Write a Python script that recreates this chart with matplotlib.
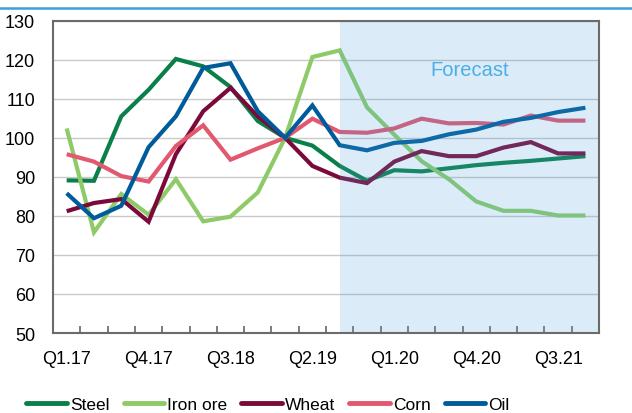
import matplotlib
matplotlib.use("Agg")
import matplotlib.pyplot as plt
from matplotlib.lines import Line2D

plt.rcParams['font.family'] = ['Liberation Sans', 'DejaVu Sans']

quarters = [f"Q{q}.{y}" for y in range(17, 22) for q in range(1, 5)]
tick_labels = ["Q1.17", "Q4.17", "Q3.18", "Q2.19", "Q1.20", "Q4.20", "Q3.21"]

steel = [89.1, 89.0, 105.5, 112.3, 120.2, 118.3, 113.0, 104.3, 100.0, 98.0,
         92.8, 89.0, 91.7, 91.4, 92.2, 93.0, 93.6, 94.1, 94.7, 95.3]
iron_ore = [102.4, 75.8, 85.6, 80.3, 89.4, 78.6, 79.8, 86.0, 100.0, 120.7,
            122.4, 107.8, 100.8, 94.0, 89.4, 83.7, 81.3, 81.3, 80.1, 80.1]
wheat = [81.2, 83.3, 84.3, 78.5, 95.8, 106.8, 112.8, 105.5, 100.0, 92.8,
         89.8, 88.4, 93.9, 96.6, 95.3, 95.3, 97.5, 98.9, 96.0, 96.0]
corn = [95.8, 93.9, 90.2, 88.8, 97.9, 103.2, 94.4, 97.3, 100.0, 104.9,
        101.5, 101.3, 102.4, 104.9, 103.7, 103.8, 103.4, 105.7, 104.4, 104.4]
oil = [85.8, 79.4, 82.6, 97.6, 105.5, 117.9, 119.1, 106.8, 100.0, 108.3,
       98.1, 96.8, 98.7, 99.2, 100.9, 102.1, 104.1, 105.1, 106.6, 107.7]

series = [("Steel", steel, "#0A7F49"),
          ("Iron ore", iron_ore, "#8ECB68"),
          ("Wheat", wheat, "#7B0A3A"),
          ("Corn", corn, "#E2586F"),
          ("Oil", oil, "#005B9A")]

forecast_start = "Q3.19"

fig = plt.figure(figsize=(6.32, 4.14), dpi=100)
ax = fig.add_axes([0.0839, 0.1932, 0.864, 0.7544])

x = list(range(len(quarters)))
for name, vals, col in series:
    ax.plot(x, vals, color=col, lw=3.0, solid_joinstyle='miter', solid_capstyle='butt',
            label=name, zorder=3)

fs = quarters.index(forecast_start)
ax.axvspan(fs, len(quarters) - 0.5, color="#4BA3DF", alpha=0.2, lw=0, zorder=4)
ax.text(14.75, 117.4, "Forecast", color="#4CAEE6", fontsize=14.5, ha='center', va='center', zorder=5)

ax.set_xlim(-0.5, len(quarters) - 0.5)
ax.set_ylim(50, 130)
ax.set_yticks(range(50, 131, 10))
ax.yaxis.grid(True, color="#C9C9C9", lw=1.0, zorder=1)
ax.set_axisbelow(True)

ax.set_xticks([quarters.index(t) for t in tick_labels])
ax.set_xticklabels(tick_labels)
ax.set_xticks([i + 0.5 for i in range(len(quarters) - 1)], minor=True)
ax.tick_params(axis='x', which='major', length=0, pad=12, labelsize=13)
ax.tick_params(axis='x', which='minor', length=5, direction='in', color="#666666", width=1.2)
ax.tick_params(axis='y', length=0, pad=13, labelsize=13)

for s in ax.spines.values():
    s.set_color("#6B6B6B")
    s.set_linewidth(1.5)
    s.set_zorder(6)

handles = [Line2D([0], [0], color=c, lw=3.5, solid_capstyle='round') for _, _, c in series]
fig.legend(handles, [n for n, _, _ in series], loc='center', bbox_to_anchor=(0.424, 0.021),
           ncol=5, frameon=False, fontsize=12.5,
           handlelength=2.35, handletextpad=0.17, columnspacing=0.8)

fig.add_artist(Line2D([0, 1], [1 - 8.5 / 414, 1 - 8.5 / 414], color="#3A9FDA", lw=1.8,
                      transform=fig.transFigure))

fig.savefig("out.png", dpi=100)
